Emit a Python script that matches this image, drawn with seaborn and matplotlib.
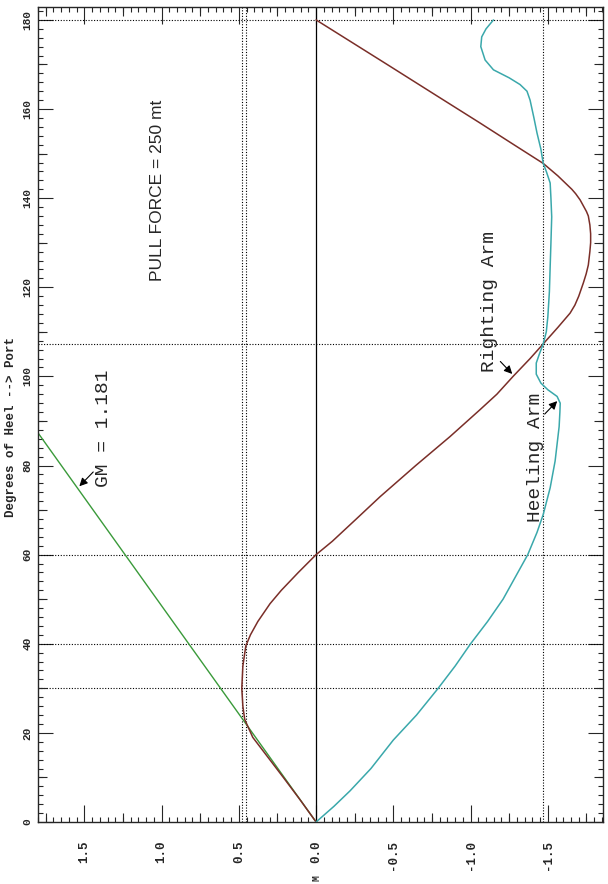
import numpy as np
import matplotlib.pyplot as plt
import seaborn as sns
from matplotlib.ticker import MultipleLocator, FormatStrFormatter

# ------------------------------------------------------------
# Data (heel angle in deg, arm in M)
# ------------------------------------------------------------
gm_deg = [0, 90]
gm_arm = [0.0, 1.855]          # GM = 1.181 tangent line

righting_deg = [0, 5, 10, 15, 19, 23, 26, 30, 35, 39.5, 42, 45, 49, 52, 56, 60,
                63, 68, 73, 80, 86.5, 92.5, 96, 100, 104, 107.3, 111, 114.2, 116,
                118, 121, 123, 125, 128, 130, 132, 134, 136, 137, 139.6, 141, 142,
                143.5, 145, 147.8, 152, 157, 163, 170, 175, 180]
righting_arm = [0, 0.104, 0.212, 0.322, 0.41, 0.462, 0.474, 0.481, 0.474, 0.455,
                0.425, 0.377, 0.298, 0.225, 0.115, 0.0, -0.105, -0.26, -0.414,
                -0.645, -0.867, -1.06, -1.17, -1.275, -1.385, -1.47, -1.565,
                -1.644, -1.675, -1.70, -1.73, -1.748, -1.762, -1.772, -1.777,
                -1.777, -1.772, -1.762, -1.75, -1.709, -1.68, -1.655, -1.61,
                -1.565, -1.47, -1.28, -1.055, -0.78, -0.46, -0.23, 0.0]

heeling_deg = [0, 3.5, 7, 12, 18.4, 24, 30, 35, 40, 45, 50, 55, 60, 65, 69, 75,
               81, 88.7, 92, 94, 95.5, 97, 98.5, 100.5, 103, 105, 107.3, 110,
               113.4, 119, 124.6, 130, 135.8, 140, 143.4, 146, 147.8, 151, 154.6,
               158, 162, 164, 165.5, 167, 168.8, 171, 174, 176.2, 178, 180]
heeling_arm = [0, -0.115, -0.22, -0.355, -0.50, -0.65, -0.79, -0.90, -1.00,
               -1.11, -1.21, -1.29, -1.37, -1.43, -1.47, -1.515, -1.547, -1.573,
               -1.578, -1.58, -1.56, -1.50, -1.455, -1.425, -1.425, -1.445, -1.47,
               -1.49, -1.50, -1.51, -1.515, -1.52, -1.525, -1.52, -1.515, -1.49,
               -1.47, -1.455, -1.43, -1.41, -1.385, -1.365, -1.32, -1.25, -1.148,
               -1.094, -1.066, -1.072, -1.10, -1.148]

grid_deg = [30, 40, 60, 107.3, 180]
grid_arm = [0.481, 0.455, -1.47]

colors = {'gm': '#3a9a3a', 'righting': '#7a2e28', 'heeling': '#3aa8ab'}

sns.set_style("ticks")
plt.rcParams['font.family'] = ['Liberation Mono', 'DejaVu Sans Mono']
plt.rcParams['font.weight'] = 'bold'

W, H = 608, 884
fig = plt.figure(figsize=(W / 100, H / 100), dpi=100)
rect = [38 / W, 62 / H, 565 / W, 815 / H]
ax = fig.add_axes(rect)

# ------------------------------------------------------------
# Curves (plot is drawn rotated: heel angle runs upward)
# ------------------------------------------------------------
sns.lineplot(x=gm_arm, y=gm_deg, sort=False, estimator=None, ax=ax,
             color=colors['gm'], lw=1.0)
sns.lineplot(x=righting_arm, y=righting_deg, sort=False, estimator=None, ax=ax,
             color=colors['righting'], lw=1.1)
sns.lineplot(x=heeling_arm, y=heeling_deg, sort=False, estimator=None, ax=ax,
             color=colors['heeling'], lw=1.1)

ax.axvline(0, color='black', lw=0.9, zorder=1)
for d in grid_deg:
    ax.axhline(d, color='black', ls=(0, (1, 1.5)), lw=0.8, zorder=1)
for m in grid_arm:
    ax.axvline(m, color='black', ls=(0, (1, 1.5)), lw=0.8, zorder=1)

xlim = (1.80, -1.857)
ylim = (0, 182.9)
ax.set_xlim(*xlim)
ax.set_ylim(*ylim)

# ------------------------------------------------------------
# Ticks
# ------------------------------------------------------------
ax.xaxis.set_major_locator(MultipleLocator(0.5))
ax.xaxis.set_minor_locator(MultipleLocator(0.05))
ax.xaxis.set_major_formatter(FormatStrFormatter('%.1f'))
ax.yaxis.set_major_locator(MultipleLocator(20))
ax.yaxis.set_minor_locator(MultipleLocator(2))
ax.tick_params(which='both', direction='in', top=True, right=True, width=0.8)
ax.tick_params(axis='x', which='major', length=12, pad=13, labelsize=9, labelrotation=90)
ax.tick_params(axis='y', which='major', length=10.5, pad=4, labelsize=8, labelrotation=90)
ax.tick_params(which='minor', length=3.5)
for lbl in ax.get_yticklabels():
    lbl.set_verticalalignment('center')
for s in ax.spines.values():
    s.set_linewidth(1.0)
    s.set_visible(True)

# medium ticks on an overlay axes
ax2 = fig.add_axes(rect, frameon=False)
ax2.set_xlim(*xlim)
ax2.set_ylim(*ylim)
ax2.set_xticks(np.arange(-1.75, 1.8, 0.5))
ax2.set_yticks(np.arange(10, 180, 20))
ax2.tick_params(direction='in', length=6.5, width=0.8, top=True, right=True,
                labelbottom=False, labelleft=False)
ax2.patch.set_visible(False)

# ------------------------------------------------------------
# Labels and annotations
# ------------------------------------------------------------
fig.text(11 / W, 1 - 427 / H, 'Degrees of Heel --> Port', rotation=90,
         ha='center', va='center', fontsize=9)
fig.text(316 / W, 1 - 878 / H, 'M', rotation=90, ha='center', va='center', fontsize=7)

arrow = dict(arrowstyle='-|>', color='black', lw=0.8, mutation_scale=12)
ax.text(1.379, 88.4, 'GM = 1.181', rotation=90, ha='center', va='center',
        fontsize=14, fontweight='normal')
ax.annotate('', xy=(1.545, 74.9), xytext=(1.43, 79), arrowprops=arrow)

ax.text(-1.12, 116.9, 'Righting Arm', rotation=90, ha='center', va='center',
        fontsize=14, fontweight='normal')
ax.annotate('', xy=(-1.282, 100.1), xytext=(-1.18, 103.8), arrowprops=arrow)

ax.text(-1.417, 81.9, 'Heeling Arm', rotation=90, ha='center', va='center',
        fontsize=14, fontweight='normal')
ax.annotate('', xy=(-1.573, 94.9), xytext=(-1.467, 91.1), arrowprops=arrow)

ax.text(1.029, 141.8, 'PULL FORCE = 250 mt', rotation=90, ha='center', va='center',
        fontsize=12.5, fontweight='normal', family=['Liberation Sans', 'DejaVu Sans'])

plt.savefig('out.png', dpi=100)
plt.close()
